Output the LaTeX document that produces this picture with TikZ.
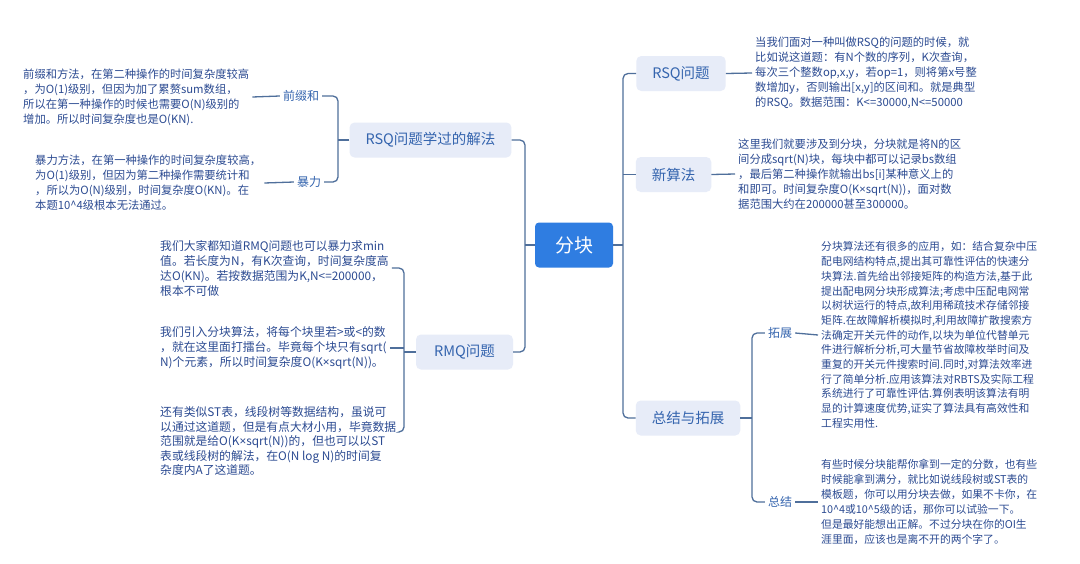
\documentclass[tikz,border=0pt]{standalone}
\usepackage{fontspec}
\setmainfont{Noto Sans CJK SC}
\newfontfamily\latinfont{Noto Sans}
\usepackage{tikz}
\usetikzlibrary{positioning}
\definecolor{mmroot}{HTML}{2F7DE1}
\definecolor{mmfill}{HTML}{E7ECF8}
\definecolor{mmtopic}{HTML}{3464AE}
\definecolor{mmtext}{HTML}{2C4B92}
\definecolor{mmline}{HTML}{4F6F9B}
\newcommand{\tms}{{\latinfont ×}}

\begin{document}
\begin{tikzpicture}[x=1pt, y=-1pt,
  rootbox/.style={rounded corners=4pt, fill=mmroot, text=white,
               minimum width=78pt, minimum height=45pt, font=\fontsize{19}{22}\selectfont},
  topicbox/.style={rounded corners=5pt, fill=mmfill, text=mmtopic,
               minimum height=35pt, inner xsep=16pt, font=\fontsize{14.5}{17}\selectfont},
  leafnode/.style={text=mmtopic, inner sep=3pt, font=\fontsize{12}{14}\selectfont},
  notetext/.style={text=mmtext, align=left, inner sep=3pt, anchor=west,
               font=\fontsize{11.3}{15}\selectfont},
  link/.style={mmline, line width=1.3pt, rounded corners=5pt}
]
\fill[white] (0,0) rectangle (1080,563);
\useasboundingbox (0,0) rectangle (1080,563);

% centre
\node[rootbox] (root) at (574,245) {分块};
\coordinate (trunkL) at (525,245);
\coordinate (trunkR) at (623,245);

% left branches
\node[topicbox] (rsqsol) at (430.5,140) {RSQ问题学过的解法};
\node[topicbox, minimum width=97pt] (rmq) at (464.5,352) {RMQ问题};
\node[leafnode] (prefix) at (301,96) {前缀和};
\node[leafnode] (brute) at (309,182) {暴力};
\coordinate (forkA) at (338,140);
\coordinate (forkB) at (404,352);

\node[notetext] (left1) at (20,97) {前缀和方法，在第二种操作的时间复杂度较高\\
，为O(1)级别，但因为加了累赘sum数组，\\
所以在第一种操作的时候也需要O(N)级别的\\
增加。所以时间复杂度也是O(KN).};
\node[notetext] (left2) at (32,183) {暴力方法，在第一种操作的时间复杂度较高，\\
为O(1)级别，但因为第二种操作需要统计和\\
，所以为O(N)级别，时间复杂度O(KN)。在\\
本题10\^{}4级根本无法通过。};

\node[notetext, font=\fontsize{11.8}{15}\selectfont] (rmq1) at (157,268) {我们大家都知道RMQ问题也可以暴力求min\\
值。若长度为N，有K次查询，时间复杂度高\\
达O(KN)。若按数据范围为K,N<=200000，\\
根本不可做};
\node[notetext, font=\fontsize{11.8}{15}\selectfont] (rmq2) at (157,348) {我们引入分块算法，将每个块里若>或<的数\\
，就在这里面打擂台。毕竟每个块只有sqrt(\\
N)个元素，所以时间复杂度O(K\tms sqrt(N))。};
\node[notetext, font=\fontsize{11.8}{14.5}\selectfont] (rmq3) at (157,441) {还有类似ST表，线段树等数据结构，虽说可\\
以通过这道题，但是有点大材小用，毕竟数据\\
范围就是给O(K\tms sqrt(N))的，但也可以以ST\\
表或线段树的解法，在O(N log N)的时间复\\
杂度内A了这道题。};

% right branches
\node[topicbox] (rsq) at (681,73.5) {RSQ问题};
\node[topicbox] (newalg) at (673.5,174.5) {新算法};
\node[topicbox] (sum) at (688,418) {总结与拓展};
\node[leafnode] (extlbl) at (780,333) {拓展};
\node[leafnode] (sumlbl) at (780,502) {总结};
\coordinate (forkC) at (752,418);

\node[notetext] (rsqtext) at (752,73) {当我们面对一种叫做RSQ的问题的时候，就\\
比如说这道题：有N个数的序列，K次查询，\\
每次三个整数op,x,y，若op=1，则将第x号整\\
数增加y，否则输出[x,y]的区间和。就是典型\\
的RSQ。数据范围：K<=30000,N<=50000};
\node[notetext] (newtext) at (735,174) {这里我们就要涉及到分块，分块就是将N的区\\
间分成sqrt(N)块，每块中都可以记录bs数组\\
，最后第二种操作就输出bs[i]某种意义上的\\
和即可。时间复杂度O(K\tms sqrt(N))，面对数\\
据范围大约在200000甚至300000。};
\node[notetext, font=\fontsize{10.8}{14.7}\selectfont] (exttext) at (818,335) {分块算法还有很多的应用，如：结合复杂中压\\
配电网结构特点,提出其可靠性评估的快速分\\
块算法.首先给出邻接矩阵的构造方法,基于此\\
提出配电网分块形成算法;考虑中压配电网常\\
以树状运行的特点,故利用稀疏技术存储邻接\\
矩阵.在故障解析模拟时,利用故障扩散搜索方\\
法确定开关元件的动作,以块为单位代替单元\\
件进行解析分析,可大量节省故障枚举时间及\\
重复的开关元件搜索时间.同时,对算法效率进\\
行了简单分析.应用该算法对RBTS及实际工程\\
系统进行了可靠性评估.算例表明该算法有明\\
显的计算速度优势,证实了算法具有高效性和\\
工程实用性.};
\node[notetext, font=\fontsize{10.8}{15}\selectfont] (sumtext) at (818,502) {有些时候分块能帮你拿到一定的分数，也有些\\
时候能拿到满分，就比如说线段树或ST表的\\
模板题，你可以用分块去做，如果不卡你，在\\
10\^{}4或10\^{}5级的话，那你可以试验一下。\\
但是最好能想出正解。不过分块在你的OI生\\
涯里面，应该也是离不开的两个字了。};

% connectors
\draw[link] (root.west) -- (trunkL);
\draw[link] (rsqsol.east) -| (trunkL) |- (rmq.east);
\draw[link] (root.east) -- (trunkR);
\draw[link] (rsq.west) -| (trunkR) |- (sum.west);
\draw[link] (newalg.west) -- (trunkR |- newalg.west);

\draw[link] (rsqsol.west) -- (forkA);
\draw[link] (prefix.east) -| (forkA) |- (brute.east);
\draw[link] (left1.east) -- (prefix.west);
\draw[link] (left2.east) -- (brute.west);

\draw[link] (rmq.west) -- (forkB);
\draw[link] (rmq1.east) -| (forkB) |- ([yshift=9pt]rmq3.east);
\draw[link] (rmq2.east) -- (forkB |- rmq2.east);

\draw[link] (rsq.east) -- (rsqtext.west);
\draw[link] (newalg.east) -- (newtext.west);
\draw[link] (sum.east) -- (forkC);
\draw[link] (extlbl.west) -| (forkC) |- (sumlbl.west);
\draw[link] (extlbl.east) -- (exttext.west);
\draw[link] (sumlbl.east) -- (sumtext.west);
\end{tikzpicture}
\end{document}
